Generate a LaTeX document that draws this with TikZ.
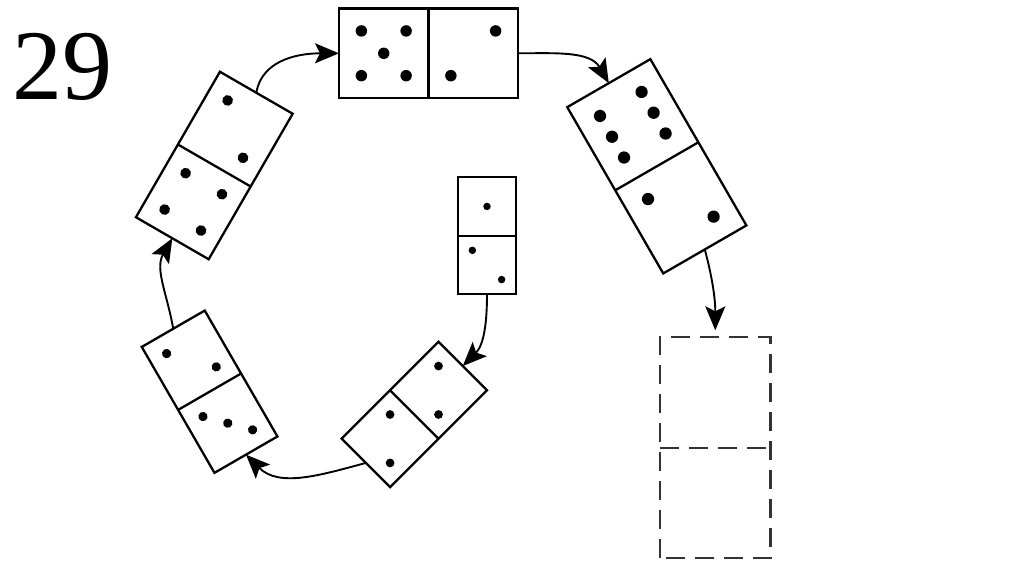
\documentclass[tikz,border=0pt]{standalone}
\usepackage{fontspec}
\usetikzlibrary{arrows.meta}
\newfontfamily\numfont{Liberation Serif}

% pips of one half (side 1), shifted by #2 along the tile
\newcommand{\pipface}[2]{%
  \ifcase#1\relax\def\piplist{0/0}%
  \or\def\piplist{0/0}%
  \or\def\piplist{-0.25/0.25,0.25/-0.25}%
  \or\def\piplist{-0.25/0.25,0/0,0.25/-0.25}%
  \or\def\piplist{-0.25/0.25,0.25/0.25,-0.25/-0.25,0.25/-0.25}%
  \or\def\piplist{-0.25/0.25,0.25/0.25,0/0,-0.25/-0.25,0.25/-0.25}%
  \or\def\piplist{-0.25/0.25,0.25/0.25,-0.25/0,0.25/0,-0.25/-0.25,0.25/-0.25}%
  \fi
  \foreach \px/\py in \piplist {\fill ({\px},{\py+(#2)}) circle[radius=0.064];}%
}
% domino: name, centre, angle, half size, pips top, pips bottom
\newcommand{\domino}[6]{%
  \begin{scope}[shift={#2},rotate=#3,scale=#4]
    \draw[tile] (-0.5,-1) rectangle (0.5,1) (-0.5,0) -- (0.5,0);
    \coordinate (#1-n) at (0,1);
    \coordinate (#1-s) at (0,-1);
    \pipface{#5}{0.5}
    \pipface{#6}{-0.5}
  \end{scope}}

\begin{document}
\begin{tikzpicture}[x=1pt,y=1pt,
    tile/.style={line width=2.3pt},
    ghost/.style={line width=2.3pt,black!80,dash pattern=on 19pt off 10pt},
    flow/.style={line width=1.9pt,-{Stealth[length=24pt,width=20pt,inset=5pt]}}]
  \useasboundingbox (0,0) rectangle (1024,574);
  % slide number
  \node[anchor=base west,inner sep=0pt,font=\numfont\fontsize{100pt}{110pt}\selectfont] (slidenum) at (12,474) {29};
  % the dominoes of the ring
  \domino{dtop}{(428.5,520.7)}{90}{89.5}{5}{2}
  \domino{dright}{(656.8,407.7)}{30}{96}{6}{2}
  \domino{dleft}{(214.3,408.5)}{-30}{84}{2}{4}
  \domino{dlow}{(209.6,182.3)}{30}{72.7}{2}{3}
  \domino{dmid}{(414.3,159.5)}{-45}{68.5}{2}{2}
  \domino{dsmall}{(487,338.3)}{0}{58.5}{1}{2}
  % the missing domino
  \begin{scope}[shift={(715.3,126.2)},scale=110.5]
    \draw[ghost] (-0.5,-1) rectangle (0.5,1) (-0.5,0) -- (0.5,0);
    \coordinate (dnext-n) at (0,1);
  \end{scope}
  % arrows
  \draw[flow] (dsmall-s) to[out=-90,in=45] (dmid-n);
  \draw[flow] (dmid-s) to[out=195,in=-45] (dlow-s);
  \draw[flow] (dlow-n) to[out=100,in=-120] (dleft-s);
  \draw[flow] (dleft-n) to[out=80,in=180] (dtop-n);
  \draw[flow] (dtop-s) to[out=0,in=120] (dright-n);
  \draw[flow,shorten >=7pt] (dright-s) to[out=-75,in=90] (dnext-n);
\end{tikzpicture}
\end{document}
